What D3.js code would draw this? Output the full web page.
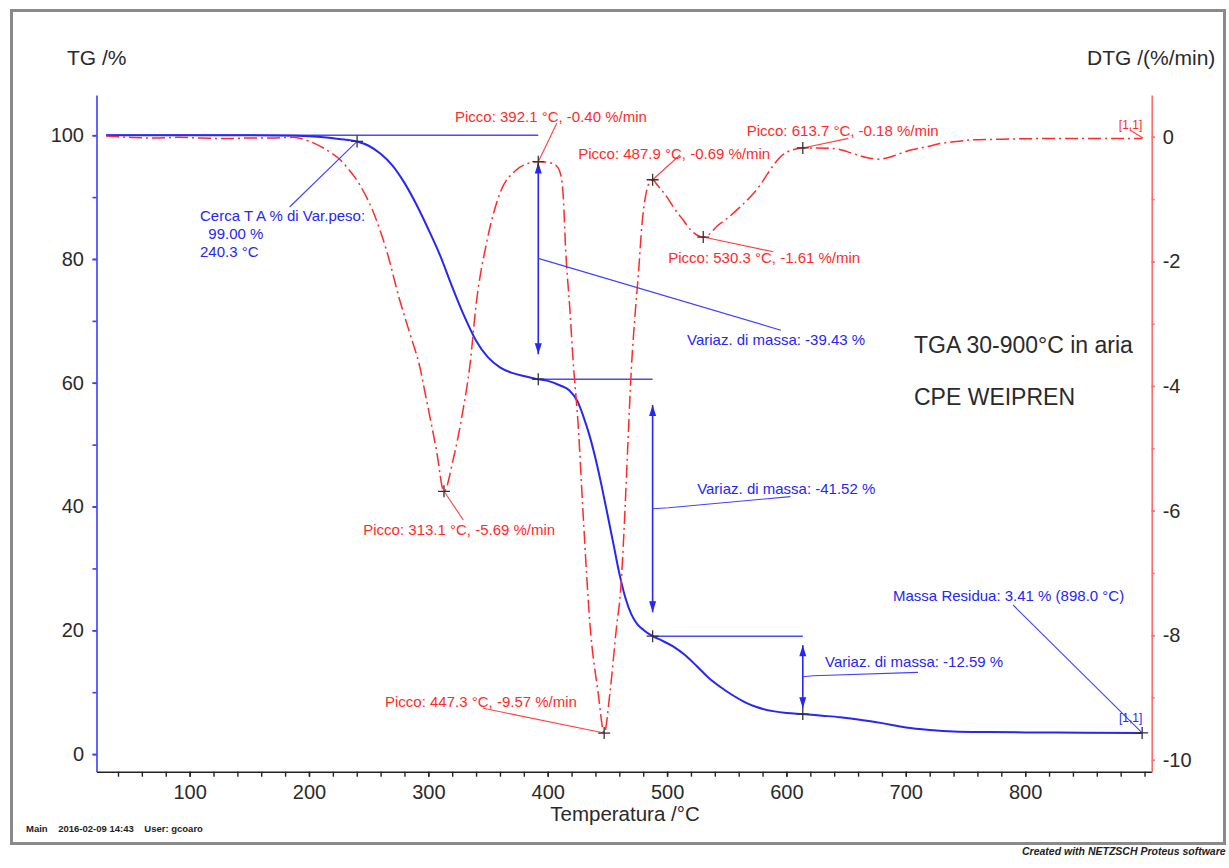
<!DOCTYPE html>
<meta charset="utf-8">
<script src="https://d3js.org/d3.v7.min.js"></script>
<style>
  body { margin: 0; background: #fff; font-family: "Liberation Sans", Arial, sans-serif; }
  .tick text { font-size: 20px; fill: #2a2a2a; font-family: "Liberation Sans", Arial, sans-serif; }
</style>
<body>
<div id="viz"></div>
<script>
// TG curve (mass %, blue)
const tempTG = [30, 100, 150, 190, 210, 225, 240.3, 250, 260, 270, 280, 290, 300, 310, 320, 330, 340, 350, 360, 370,
  380, 392.1, 400, 410, 418, 425, 430, 435, 440, 445, 450, 455, 460, 465, 470, 475, 480, 487.9, 495, 505,
  515, 525, 535, 545, 555, 565, 575, 590, 600, 613.7, 630, 645, 660, 680, 700, 720, 740, 770, 800, 850, 898];
const massTG = [100, 100, 100, 99.9, 99.7, 99.4, 99.0, 98.3, 97.0, 95.1, 92.3, 88.8, 84.8, 80.5, 75.5, 70.8, 66.8, 64.1, 62.5, 61.6,
  61.1, 60.57, 60.3, 59.6, 58.8, 57.0, 54.5, 51.5, 47.8, 43.5, 38.8, 34.0, 29.2, 25.3, 22.6, 21.0, 20.1, 19.05, 18.4, 17.4,
  16.0, 14.2, 12.3, 10.8, 9.5, 8.4, 7.6, 6.9, 6.65, 6.46, 6.2, 5.95, 5.6, 5.0, 4.3, 3.9, 3.65, 3.55, 3.5, 3.45, 3.41];

// DTG curve (%/min, red dash-dot)
const tempDTG = [30, 50, 70, 90, 110, 130, 150, 170, 186, 200, 214.6, 225, 231.4, 242.5, 253.7, 264.9, 276, 284.4, 292.8, 298.4,
  306.8, 313.1, 320.7, 329.1, 334.7, 340.3, 348.7, 359.9, 373.9, 385, 392.1, 400, 407.4, 411, 413, 415, 418.5, 421.3, 425.6, 429.8,
  435.3, 442.3, 447.3, 452.1, 457.7, 461, 464, 467, 470, 473, 476, 479, 482, 485, 487.9, 492, 499.6, 506, 513.6, 520,
  527.5, 530.3, 535, 541.5, 551, 561, 570, 577.8, 584, 589, 595, 600.2, 607, 613.7, 625, 639.4, 656, 666, 677, 686,
  695.2, 705, 717.6, 728.7, 740, 756.6, 780, 810, 850, 898];
const rateDTG = [0.01, -0.01, -0.02, -0.01, -0.02, -0.03, -0.02, -0.02, -0.01, -0.07, -0.21, -0.35, -0.48, -0.77, -1.2, -1.82, -2.62, -3.15, -3.69, -4.22,
  -5.03, -5.69, -5.19, -4.38, -3.69, -2.65, -1.71, -0.91, -0.53, -0.42, -0.40, -0.41, -0.47, -0.62, -0.95, -1.8, -2.75, -3.6, -4.65, -6.1,
  -7.8, -8.93, -9.57, -8.93, -7.86, -7.3, -6.3, -5.0, -3.75, -2.9, -2.2, -1.4, -0.95, -0.74, -0.69, -0.78, -0.96, -1.15, -1.34, -1.5,
  -1.6, -1.61, -1.57, -1.44, -1.3, -1.13, -0.96, -0.78, -0.6, -0.46, -0.32, -0.25, -0.2, -0.18, -0.18, -0.19, -0.27, -0.33, -0.36, -0.33,
  -0.27, -0.21, -0.16, -0.11, -0.08, -0.05, -0.04, -0.03, -0.03, -0.03];

// evaluated points
const tgMarkT = [240.3, 392.1, 487.9, 613.7, 898];
const tgMarkV = [99.0, 60.57, 19.05, 6.46, 3.41];
const dtgMarkT = [313.1, 392.1, 447.3, 487.9, 530.3, 613.7];
const dtgMarkV = [-5.69, -0.40, -9.57, -0.69, -1.61, -0.18];

// mass steps
const stepStartT = [30, 392.1, 487.9];
const stepT = [392.1, 487.9, 613.7];
const stepLevel = [100, 60.57, 19.05];
const arrowTop = [95.6, 56.4, 17.6];
const arrowBot = [64.6, 22.9, 7.4];
const stepLabels = ["Variaz. di massa: -39.43 %", "Variaz. di massa: -41.52 %", "Variaz. di massa: -12.59 %"];

const xTicks = [100, 200, 300, 400, 500, 600, 700, 800];
const tgTicks = [0, 20, 40, 60, 80, 100];
const dtgTicks = [0, -2, -4, -6, -8, -10];

const W = 1229, H = 868;
const blue = "#2626f5", red = "#ff2a2a";

const svg = d3.select("#viz").append("svg").attr("width", W).attr("height", H);

const x = d3.scaleLinear().domain([22, 906]).range([96.5, 1151.7]);
const yTG = d3.scaleLinear().domain([-2.85, 106.5]).range([771.7, 95]);
const yDTG = d3.scaleLinear().domain([-10.19, 0.67]).range([771.7, 95]);

// frame
svg.append("rect").attr("x", 11.5).attr("y", 10.5).attr("width", 1213).attr("height", 833)
  .attr("fill", "none").attr("stroke", "#8a8a8a").attr("stroke-width", 3);

// bottom axis
svg.append("g").attr("transform", `translate(0,${yTG.range()[0]})`)
  .call(d3.axisBottom(x).tickValues(d3.range(40, 901, 20)).tickSize(5).tickSizeOuter(0).tickFormat(""))
  .call(g => g.selectAll("line,path").attr("stroke", "#222").attr("stroke-width", 1.4));
svg.append("g").attr("transform", `translate(0,${yTG.range()[0]})`)
  .call(d3.axisBottom(x).tickValues(xTicks).tickSize(5).tickPadding(8).tickSizeOuter(0))
  .call(g => g.select(".domain").remove())
  .call(g => g.selectAll("line").attr("stroke", "#222").attr("stroke-width", 1.4));

// left TG axis
svg.append("g").attr("transform", `translate(${x.range()[0]},0)`)
  .call(d3.axisLeft(yTG).tickValues(d3.range(0, 101, 10)).tickSize(4).tickSizeOuter(0).tickFormat(""))
  .call(g => g.selectAll("line,path").attr("stroke", "#3c3cff").attr("stroke-width", 1.6));
svg.append("g").attr("transform", `translate(${x.range()[0]},0)`)
  .call(d3.axisLeft(yTG).tickValues(tgTicks).tickSize(4).tickPadding(8.5).tickFormat(d => String(d)))
  .call(g => g.select(".domain").remove())
  .call(g => g.selectAll("line").attr("stroke", "#3c3cff").attr("stroke-width", 1.6));

// right DTG axis
svg.append("g").attr("transform", `translate(${x.range()[1]},0)`)
  .call(d3.axisRight(yDTG).tickValues(d3.range(-10, 0.5, 1)).tickSize(3).tickSizeOuter(0).tickFormat(""))
  .call(g => g.selectAll("line,path").attr("stroke", "#ff6b6b").attr("stroke-width", 1.6));
svg.append("g").attr("transform", `translate(${x.range()[1]},0)`)
  .call(d3.axisRight(yDTG).tickValues(dtgTicks).tickSize(3).tickPadding(8).tickFormat(d => String(d)))
  .call(g => g.select(".domain").remove())
  .call(g => g.selectAll("line").attr("stroke", "#ff6b6b").attr("stroke-width", 1.6));

// axis titles
const title = (t, px, py, size, anchor) => svg.append("text").attr("x", px).attr("y", py)
  .attr("font-size", size).attr("fill", "#2a2a2a").attr("text-anchor", anchor || "start").text(t);
title("TG /%", 67, 65, 21);
title("DTG /(%/min)", 1087, 65, 21);
title("Temperatura /°C", 625, 821, 20.5, "middle");
title("TGA 30-900°C in aria", 914, 353, 23);
title("CPE WEIPREN", 914, 405, 23);

// footer
svg.append("text").attr("x", 26).attr("y", 832).attr("font-size", 9.5).attr("font-weight", "bold")
  .attr("fill", "#222").attr("xml:space", "preserve").text("Main    2016-02-09 14:43    User: gcoaro");
svg.append("text").attr("x", 1022).attr("y", 855).attr("font-size", 10.5).attr("font-weight", "bold")
  .attr("font-style", "italic").attr("fill", "#222").text("Created with NETZSCH Proteus software");

// step reference lines (horizontal)
stepT.forEach((t, i) => {
  svg.append("line").attr("x1", x(stepStartT[i])).attr("x2", x(t))
    .attr("y1", yTG(stepLevel[i])).attr("y2", yTG(stepLevel[i]))
    .attr("stroke", "#4a4aff").attr("stroke-width", 1.5);
});

// TG curve
const tgLine = d3.line().x(d => x(d[0])).y(d => yTG(d[1])).curve(d3.curveMonotoneX);
svg.append("path").datum(d3.zip(tempTG, massTG)).attr("d", tgLine)
  .attr("fill", "none").attr("stroke", blue).attr("stroke-width", 2);

// DTG curve
const dtgLine = d3.line().x(d => x(d[0])).y(d => yDTG(d[1])).curve(d3.curveMonotoneX);
svg.append("path").datum(d3.zip(tempDTG, rateDTG)).attr("d", dtgLine)
  .attr("fill", "none").attr("stroke", red).attr("stroke-width", 1.5)
  .attr("stroke-dasharray", "13,4,2,4");

// step arrows + leaders + labels
const stepLeader = [
  [[392.1, 80.1], [595.4, 68.5]],
  [[487.9, 39.65], [501.3, 39.8], [603.3, 41.6]],
  [[613.7, 12.5], [622.4, 12.65], [710.2, 13.2]]
];
const stepLabelPos = [[516.7, 66.1], [525.2, 42.1], [632.3, 14.06]];
const leader = d3.line().x(d => x(d[0]));
stepT.forEach((t, i) => {
  const px = x(t), yt = yTG(arrowTop[i]), yb = yTG(arrowBot[i]);
  svg.append("line").attr("x1", px).attr("x2", px).attr("y1", yt).attr("y2", yb)
    .attr("stroke", blue).attr("stroke-width", 1.6);
  svg.append("path").attr("d", `M${px},${yt}L${px - 3.5},${yt + 11}L${px + 3.5},${yt + 11}Z M${px},${yb}L${px - 3.5},${yb - 11}L${px + 3.5},${yb - 11}Z`)
    .attr("fill", blue);
  svg.append("path").datum(stepLeader[i]).attr("d", leader.y(d => yTG(d[1])))
    .attr("fill", "none").attr("stroke", "#4040ff").attr("stroke-width", 1.1);
  svg.append("text").attr("x", x(stepLabelPos[i][0])).attr("y", yTG(stepLabelPos[i][1]))
    .attr("font-size", 15).attr("fill", blue).text(stepLabels[i]);
});

// onset annotation
svg.append("line").attr("x1", x(240.3)).attr("y1", yTG(99.0)).attr("x2", x(183.8)).attr("y2", yTG(88.4))
  .attr("stroke", "#4040ff").attr("stroke-width", 1.1);
const onset = svg.append("text").attr("font-size", 15).attr("fill", blue).attr("xml:space", "preserve");
onset.append("tspan").attr("x", x(108.7)).attr("y", yTG(86.2)).text("Cerca T A % di Var.peso:");
onset.append("tspan").attr("x", x(108.7)).attr("y", yTG(83.3)).text("  99.00 %");
onset.append("tspan").attr("x", x(108.7)).attr("y", yTG(80.4)).text("240.3 °C");

// residual mass
svg.append("line").attr("x1", x(789.8)).attr("y1", yTG(24.1)).attr("x2", x(898)).attr("y2", yTG(3.41))
  .attr("stroke", "#4040ff").attr("stroke-width", 1.1);
svg.append("text").attr("x", x(689.3)).attr("y", yTG(24.7)).attr("font-size", 15).attr("fill", blue)
  .text("Massa Residua: 3.41 % (898.0 °C)");
svg.append("text").attr("x", x(878.6)).attr("y", yTG(5.17)).attr("font-size", 12).attr("fill", blue).text("[1,1]");

// DTG peak labels
const peakLabelPos = [[245.5, -6.39], [322.3, 0.229], [263.7, -9.152], [425.6, -0.365], [501.0, -2.026], [566.7, 0.012]];
const peakLeaderEnd = [[329.3, -6.15], [407.6, 0.216], [346.0, -9.173], [510.8, -0.293], [589.0, -1.846], [651.8, -0.026]];
dtgMarkT.forEach((t, i) => {
  svg.append("line").attr("x1", x(t)).attr("y1", yDTG(dtgMarkV[i]))
    .attr("x2", x(peakLeaderEnd[i][0])).attr("y2", yDTG(peakLeaderEnd[i][1]))
    .attr("stroke", "#ff4040").attr("stroke-width", 1.1);
  svg.append("text").attr("x", x(peakLabelPos[i][0])).attr("y", yDTG(peakLabelPos[i][1]))
    .attr("font-size", 15).attr("fill", red)
    .text(`Picco: ${t.toFixed(1)} °C, ${dtgMarkV[i].toFixed(2)} %/min`);
});
svg.append("line").attr("x1", x(887.8)).attr("y1", yDTG(0.108)).attr("x2", x(898.9)).attr("y2", yDTG(-0.025))
  .attr("stroke", "#ff4040").attr("stroke-width", 1.1);
svg.append("text").attr("x", x(878.5)).attr("y", yDTG(0.132)).attr("font-size", 12).attr("fill", red).text("[1,1]");

// "+" markers
const plus = "M-6,0H6M0,-6V6";
svg.append("g").selectAll("path").data(d3.zip(tgMarkT, tgMarkV)).join("path")
  .attr("transform", d => `translate(${x(d[0])},${yTG(d[1])})`).attr("d", plus)
  .attr("stroke", "#333").attr("stroke-width", 1.3);
svg.append("g").selectAll("path").data(d3.zip(dtgMarkT, dtgMarkV)).join("path")
  .attr("transform", d => `translate(${x(d[0])},${yDTG(d[1])})`).attr("d", plus)
  .attr("stroke", "#333").attr("stroke-width", 1.3);
</script>
</body>
